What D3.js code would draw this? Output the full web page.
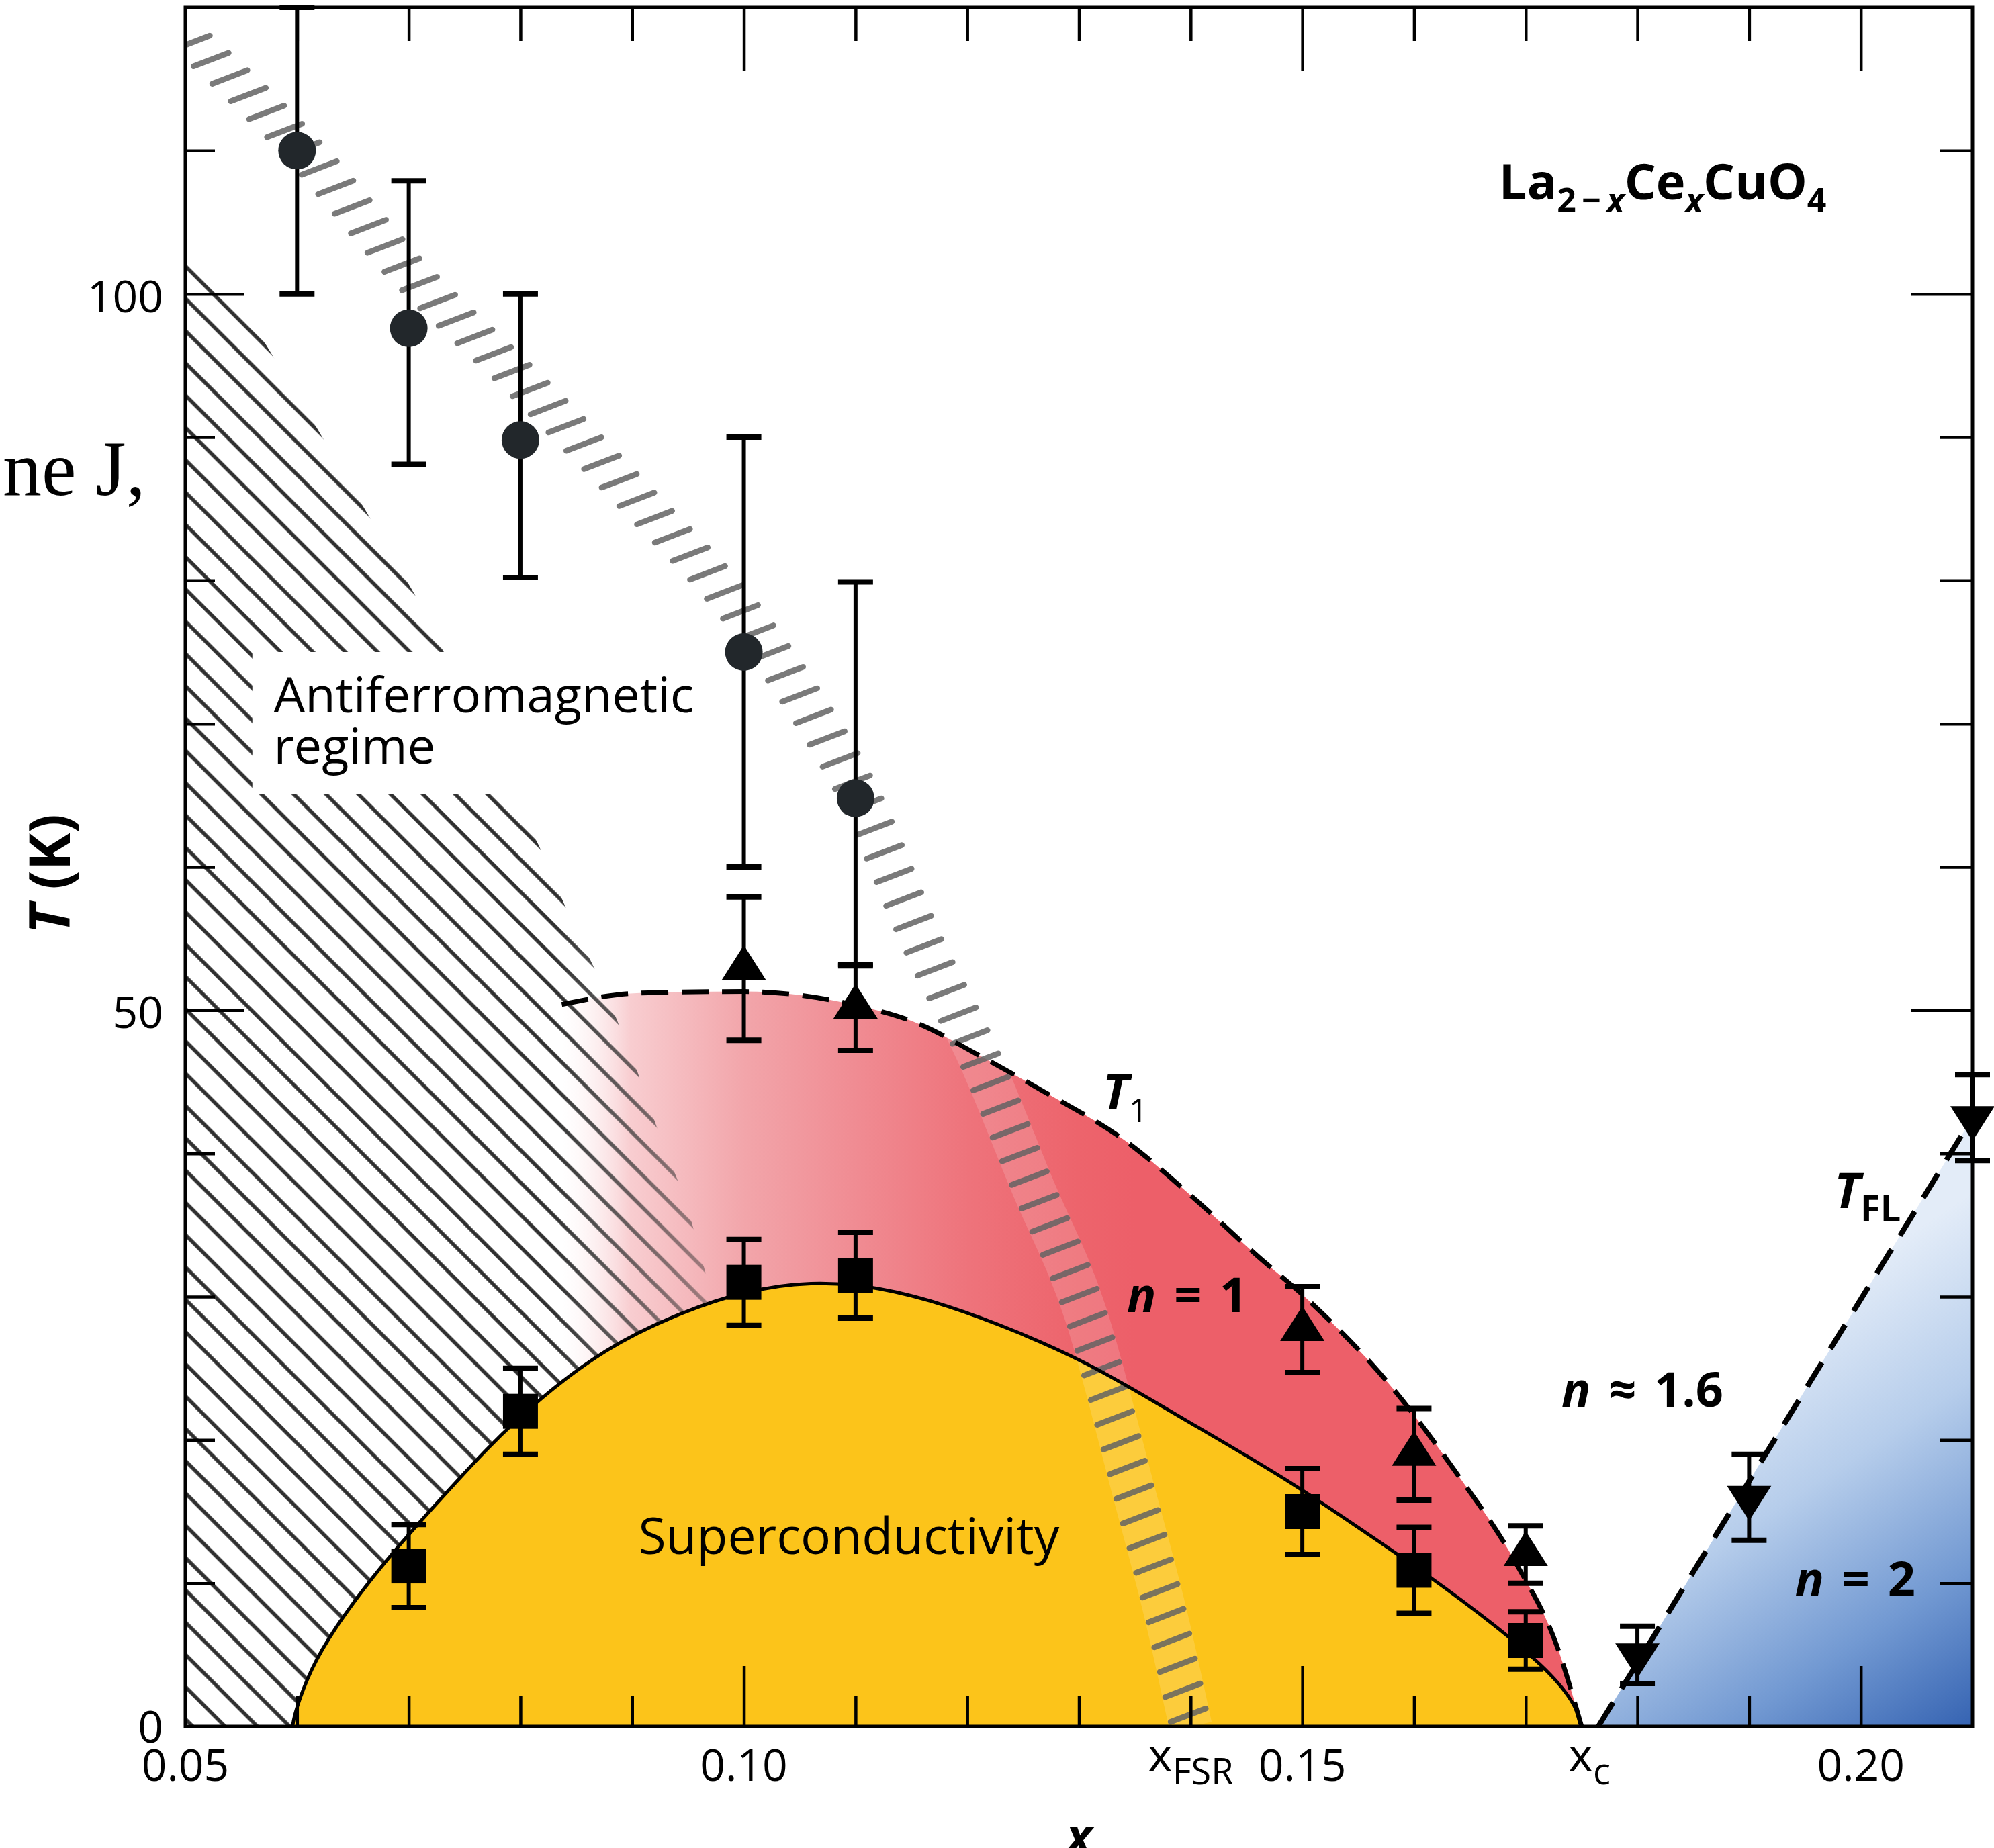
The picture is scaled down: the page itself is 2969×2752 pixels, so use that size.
<!DOCTYPE html>
<html><head><meta charset="utf-8">
<script src="https://cdn.jsdelivr.net/npm/d3@7"></script>
<style>
body{margin:0;background:#fff}
svg{display:block}
text{font-family:"Open Sans","Noto Sans",sans-serif;fill:#000}
</style>
</head><body>
<svg id="c" width="2969" height="2752"></svg>
<script>
// ---------------- data ----------------
const xMajorTicks = [0.05, 0.10, 0.15, 0.20];
const xMajorLabels = ["0.05", "0.10", "0.15", "0.20"];
const xMinorTicks = [0.06, 0.07, 0.08, 0.09, 0.11, 0.12, 0.13, 0.14, 0.16, 0.17, 0.18, 0.19];
const yMajorTicks = [0, 50, 100];
const yMajorLabels = ["0", "50", "100"];
const yMinorTicks = [10, 20, 30, 40, 60, 70, 80, 90, 110];

// antiferromagnetic (circles)
const afX  = [0.06, 0.07, 0.08, 0.10, 0.11];
const afT  = [110, 97.6, 89.8, 75, 64.8];
const afLo = [100, 88.1, 80.2, 60, 53.1];
const afHi = [120, 107.9, 100, 90, 79.9];

// T1 (up triangles)
const t1X   = [0.10, 0.11, 0.15, 0.16, 0.17];
const t1T   = [52.9, 50.2, 27.7, 19.0, 12.0];
const t1Err = [5.0, 3.0, 3.0, 3.2, 2.0];

// Tc (squares)
const tcX   = [0.07, 0.08, 0.10, 0.11, 0.15, 0.16, 0.17];
const tcT   = [11.2, 22.0, 31.0, 31.5, 15.0, 10.9, 6.0];
const tcErr = [2.9, 3.0, 3.0, 3.0, 3.0, 3.0, 2.0];

// T_FL (down triangles)
const flX   = [0.18, 0.19, 0.21];
const flT   = [5.0, 16.0, 42.5];
const flErr = [2.0, 3.0, 3.0];

// boundary curves
const tcCurveX = [0.0596, 0.0598, 0.0612, 0.0633, 0.0668, 0.0702, 0.0737, 0.0771, 0.0817, 0.0876, 0.0937, 0.0999, 0.106, 0.1121, 0.1183, 0.1244, 0.1305, 0.1367, 0.1428, 0.1489, 0.155, 0.1612, 0.1674, 0.1722, 0.1745, 0.175];
const tcCurveT = [0, 1.0, 4.0, 6.8, 10.5, 13.6, 16.6, 19.5, 22.9, 26.4, 28.7, 30.4, 31.1, 30.7, 29.4, 27.6, 25.5, 22.7, 19.9, 17.1, 13.9, 10.6, 7.0, 3.8, 1.5, 0];

const t1CurveX = [0.0837, 0.0907, 0.10, 0.1097, 0.1158, 0.1207, 0.1269, 0.1343, 0.1404, 0.1459, 0.1502, 0.1582, 0.1637, 0.1692, 0.1728, 0.175];
const t1CurveT = [50.4, 51.2, 51.3, 50.4, 49.0, 47.0, 44.3, 40.8, 36.8, 32.9, 30.0, 23.5, 17.8, 11.3, 5.6, 0];

const flLineX = [0.1765, 0.21];
const flLineT = [0, 42.5];

// Fermi-surface-reconstruction band
const bandX = [0.05, 0.06, 0.07, 0.08, 0.09, 0.10, 0.105, 0.11, 0.1163, 0.1211, 0.1258, 0.1306, 0.1349, 0.1379, 0.14];
const bandT = [118, 110.5, 101.5, 94, 86, 77.5, 72, 65.5, 54.2, 46.7, 37.8, 28.8, 16.4, 7.4, 0];

// antiferromagnetic hatched region boundary
const afBoundX = [0.05, 0.05, 0.056, 0.0615, 0.0668, 0.071, 0.0817, 0.0847, 0.0875, 0.0902, 0.0924, 0.0948, 0.0975, 0.0975];
const afBoundT = [0, 104, 98, 91, 84, 78.4, 61.4, 56, 51.5, 46.3, 41.4, 36.7, 29, 0];

// ---------------- drawing ----------------
const W = 2969, H = 2752;
const x = d3.scaleLinear().domain([0.05, 0.21]).range([276, 2937]);
const y = d3.scaleLinear().domain([0, 120]).range([2571, 11]);
const zip = (a, b) => a.map((v, i) => [v, b[i]]);

const svg = d3.select("#c");
svg.append("rect").attr("width", W).attr("height", H).attr("fill", "#fff");
const defs = svg.append("defs");

defs.append("clipPath").attr("id", "plotClip").append("rect")
  .attr("x", x(0.05)).attr("y", y(120)).attr("width", x(0.21) - x(0.05)).attr("height", y(0) - y(120));

// hatch pattern
const pat = defs.append("pattern").attr("id", "hatch").attr("patternUnits", "userSpaceOnUse")
  .attr("width", 100).attr("height", 34).attr("patternTransform", "rotate(45)");
pat.append("line").attr("x1", -5).attr("x2", 105).attr("y1", 17).attr("y2", 17)
  .attr("stroke", "#2f2f2f").attr("stroke-width", 5.5);

// fade for hatch inside pink region
const fg = defs.append("linearGradient").attr("id", "fadeG").attr("gradientUnits", "userSpaceOnUse")
  .attr("x1", x(0.083)).attr("x2", x(0.0975)).attr("y1", 0).attr("y2", 0);
fg.append("stop").attr("offset", 0).attr("stop-color", "#fff");
fg.append("stop").attr("offset", 1).attr("stop-color", "#666");
const mask = defs.append("mask").attr("id", "fadeM").attr("maskUnits", "userSpaceOnUse")
  .attr("x", 0).attr("y", 0).attr("width", W).attr("height", H);
mask.append("rect").attr("width", W).attr("height", H).attr("fill", "url(#fadeG)");

// red gradient
const rg = defs.append("linearGradient").attr("id", "redG").attr("gradientUnits", "userSpaceOnUse")
  .attr("x1", x(0.0837)).attr("x2", x(0.135)).attr("y1", 0).attr("y2", 0);
[[0, "#ffffff", 0.3], [0.12, "#f8cdd0", 1], [0.32, "#f2a5aa", 1], [0.51, "#f08c93", 1], [0.71, "#ee737b", 1], [0.9, "#ed646c", 1], [1, "#ed5f69", 1]]
  .forEach(([o, c, a]) => rg.append("stop").attr("offset", o).attr("stop-color", c).attr("stop-opacity", a));

// blue gradient
const bg = defs.append("linearGradient").attr("id", "blueG").attr("gradientUnits", "userSpaceOnUse")
  .attr("x1", x(0.188)).attr("y1", y(26)).attr("x2", x(0.21)).attr("y2", y(0));
[[0, "#e3ecf8"], [0.35, "#b6cdeb"], [0.7, "#7299d2"], [1, "#3563b2"]]
  .forEach(([o, c]) => bg.append("stop").attr("offset", o).attr("stop-color", c));

const plot = svg.append("g").attr("clip-path", "url(#plotClip)");

const lineMono = d3.line().x(d => x(d[0])).y(d => y(d[1])).curve(d3.curveMonotoneX);
const lineBasis = d3.line().x(d => x(d[0])).y(d => y(d[1])).curve(d3.curveBasis);
const lineLin = d3.line().x(d => x(d[0])).y(d => y(d[1]));
const areaMono = d3.area().x(d => x(d[0])).y0(y(0)).y1(d => y(d[1])).curve(d3.curveMonotoneX);
const areaBasis = d3.area().x(d => x(d[0])).y0(y(0)).y1(d => y(d[1])).curve(d3.curveBasis);

const tcPts = zip(tcCurveX, tcCurveT);
const t1Pts = zip(t1CurveX, t1CurveT);

// red region (under T1; superconducting dome painted over it)
plot.append("path").attr("d", areaMono(t1Pts)).attr("fill", "url(#redG)");

// hatched antiferromagnetic region
plot.append("path").attr("d", lineLin(zip(afBoundX, afBoundT)) + "Z")
  .attr("fill", "url(#hatch)").attr("mask", "url(#fadeM)");

// superconducting dome
plot.append("path").attr("d", areaBasis(tcPts)).attr("fill", "#fcc41a");

// blue Fermi-liquid region
plot.append("path").attr("d", lineLin([[flLineX[0], 0], ...zip(flLineX, flLineT), [flLineX[1], 0]]) + "Z")
  .attr("fill", "url(#blueG)");

// white box behind AF label
plot.append("rect").attr("x", x(0.056)).attr("y", y(75)).attr("width", x(0.0965) - x(0.056))
  .attr("height", y(65.1) - y(75)).attr("fill", "#fff");

// FSR band
const bandPath = plot.append("path").attr("d", lineMono(zip(bandX, bandT)))
  .attr("fill", "none").attr("stroke", "#fff").attr("stroke-opacity", 0.15).attr("stroke-width", 64);
const bn = bandPath.node();
const bL = bn.getTotalLength();
const ang = -21 * Math.PI / 180, half = 28;
const bandMarks = d3.range(14, bL, 38).map(s => bn.getPointAtLength(s));
plot.append("g").selectAll("line").data(bandMarks).join("line")
  .attr("x1", p => p.x - half * Math.cos(ang)).attr("y1", p => p.y - half * Math.sin(ang))
  .attr("x2", p => p.x + half * Math.cos(ang)).attr("y2", p => p.y + half * Math.sin(ang))
  .attr("stroke", "#636363").attr("stroke-opacity", 0.85).attr("stroke-width", 8.5).attr("stroke-linecap", "round");

// curves
plot.append("path").attr("d", lineMono(t1Pts)).attr("fill", "none").attr("stroke", "#000")
  .attr("stroke-width", 7).attr("stroke-dasharray", "40,20");
plot.append("path").attr("d", lineBasis(tcPts)).attr("fill", "none").attr("stroke", "#000")
  .attr("stroke-width", 5);
plot.append("path").attr("d", lineLin(zip(flLineX, flLineT))).attr("fill", "none").attr("stroke", "#000")
  .attr("stroke-width", 8).attr("stroke-dasharray", "42,24");

// error bars
function errBars(xs, lo, hi) {
  const g = svg.append("g");
  xs.forEach((v, i) => {
    g.append("line").attr("x1", x(v)).attr("x2", x(v)).attr("y1", y(lo[i])).attr("y2", y(hi[i]))
      .attr("stroke", "#000").attr("stroke-width", 6);
    [lo[i], hi[i]].forEach(t => g.append("line").attr("x1", x(v) - 26).attr("x2", x(v) + 26)
      .attr("y1", y(t)).attr("y2", y(t)).attr("stroke", "#000").attr("stroke-width", 8));
  });
}
errBars(afX, afLo, afHi);
errBars(t1X, t1T.map((v, i) => v - t1Err[i]), t1T.map((v, i) => v + t1Err[i]));
errBars(tcX, tcT.map((v, i) => v - tcErr[i]), tcT.map((v, i) => v + tcErr[i]));
errBars(flX, flT.map((v, i) => v - flErr[i]), flT.map((v, i) => v + flErr[i]));

// markers
const mk = svg.append("g");
mk.selectAll("circle").data(zip(afX, afT)).join("circle")
  .attr("cx", d => x(d[0])).attr("cy", d => y(d[1])).attr("r", 28).attr("fill", "#22272b");
mk.selectAll("rect.sq").data(zip(tcX, tcT)).join("rect").attr("class", "sq")
  .attr("x", d => x(d[0]) - 26).attr("y", d => y(d[1]) - 26).attr("width", 52).attr("height", 52).attr("fill", "#000");
const triUp = "M0,-35L33,17L-33,17Z", triDn = "M0,35L33,-17L-33,-17Z";
mk.selectAll("path.up").data(zip(t1X, t1T)).join("path").attr("class", "up")
  .attr("d", triUp).attr("transform", d => `translate(${x(d[0])},${y(d[1])})`).attr("fill", "#000");
mk.selectAll("path.dn").data(zip(flX, flT)).join("path").attr("class", "dn")
  .attr("d", triDn).attr("transform", d => `translate(${x(d[0])},${y(d[1])})`).attr("fill", "#000");

// ---------------- text ----------------
const tx = svg.append("g");
function label(xv, tv, parts, opts = {}) {
  const t = tx.append("text").attr("x", x(xv)).attr("y", y(tv))
    .attr("font-size", opts.size || 66).attr("text-anchor", opts.anchor || "start");
  if (opts.weight) t.attr("font-weight", opts.weight);
  if (opts.ws) t.attr("word-spacing", opts.ws);
  parts.forEach(p => {
    const s = t.append("tspan").text(p.t);
    if (p.size) s.attr("font-size", p.size);
    if (p.dy) s.attr("dy", p.dy);
    if (p.style) s.attr("font-style", p.style);
    if (p.weight) s.attr("font-weight", p.weight);
  });
  return t;
}
label(0.0579, 70.8, [{t: "Antiferromagnetic"}], {size: 74});
label(0.0579, 67.2, [{t: "regime"}], {size: 74});
label(0.1094, 12.05, [{t: "Superconductivity"}], {size: 75, anchor: "middle"});
label(0.1343, 28.9, [{t: "n", style: "italic"}, {t: " = 1"}], {size: 72, weight: 700, ws: 8});
label(0.1732, 22.3, [{t: "n", style: "italic"}, {t: " ≈ 1.6"}], {size: 72, weight: 700, ws: 8});
label(0.1941, 9.1, [{t: "n", style: "italic"}, {t: " = 2"}], {size: 72, weight: 700, ws: 8});
label(0.1321, 43.1, [{t: "T", style: "italic", weight: 700}, {t: "1", size: 50, dy: 19}], {size: 74});
label(0.1976, 36.2, [{t: "T", style: "italic", weight: 700}, {t: "FL", size: 54, dy: 20, weight: 700}], {size: 74});
label(0.1676, 106.6, [
  {t: "La"}, {t: "2\u2009\u2212\u2009", size: 50, dy: 19}, {t: "x", size: 50, style: "italic"},
  {t: "Ce", size: 74, dy: -19}, {t: "x", size: 50, dy: 19, style: "italic"},
  {t: "CuO", size: 74, dy: -19}, {t: "4", size: 50, dy: 19}
], {size: 74, weight: 700});

// stray text fragment at left margin
svg.append("text").attr("x", 4).attr("y", 737).attr("font-size", 116)
  .style("font-family", "'Liberation Serif','Times New Roman',serif").attr("fill", "#111").text("ne J,");

// ---------------- axes ----------------
const ax = svg.append("g");
function tickAxis(gen, tr, vals, size) {
  const g = ax.append("g").attr("transform", tr).call(gen.tickValues(vals).tickSize(size).tickFormat(""));
  g.select(".domain").remove();
  g.selectAll(".tick line").attr("stroke", "#000").attr("stroke-width", 4.5);
}
tickAxis(d3.axisBottom(x), `translate(0,${y(0)})`, xMajorTicks, -90);
tickAxis(d3.axisBottom(x), `translate(0,${y(0)})`, xMinorTicks, -45);
tickAxis(d3.axisTop(x), `translate(0,${y(120)})`, xMajorTicks, -95);
tickAxis(d3.axisTop(x), `translate(0,${y(120)})`, xMinorTicks, -50);
tickAxis(d3.axisLeft(y), `translate(${x(0.05)},0)`, yMajorTicks, -88);
tickAxis(d3.axisLeft(y), `translate(${x(0.05)},0)`, yMinorTicks, -44);
tickAxis(d3.axisRight(y), `translate(${x(0.21)},0)`, yMajorTicks, -92);
tickAxis(d3.axisRight(y), `translate(${x(0.21)},0)`, yMinorTicks, -48);

ax.append("rect").attr("x", x(0.05)).attr("y", y(120)).attr("width", x(0.21) - x(0.05))
  .attr("height", y(0) - y(120)).attr("fill", "none").attr("stroke", "#000").attr("stroke-width", 5);

// tick labels
xMajorTicks.forEach((v, i) => tx.append("text").attr("x", x(v)).attr("y", y(0) + 81)
  .attr("text-anchor", "middle").attr("font-size", 66).text(xMajorLabels[i]));
yMajorTicks.forEach((v, i) => tx.append("text").attr("x", x(0.05) - 33).attr("y", y(v) + (v === 0 ? 24 : 27))
  .attr("text-anchor", "end").attr("font-size", 66).text(yMajorLabels[i]));

// special x labels
function subLabel(xv, main, sub) {
  const t = tx.append("text").attr("x", x(xv)).attr("y", y(0) + 67).attr("text-anchor", "middle").attr("font-size", 70);
  t.append("tspan").text(main);
  t.append("tspan").attr("font-size", 54).attr("dy", 19).text(sub);
}
subLabel(0.14, "x", "FSR");
subLabel(0.1757, "x", "c");

// axis titles
tx.append("text").attr("x", x(0.13)).attr("y", 2760).attr("text-anchor", "middle")
  .attr("font-size", 72).attr("font-weight", 700).attr("font-style", "italic").text("x");
const yl = tx.append("text").attr("transform", `translate(104,${y(59.5)}) rotate(-90)`)
  .attr("text-anchor", "middle").attr("font-size", 84).attr("font-weight", 700);
yl.append("tspan").attr("font-style", "italic").text("T");
yl.append("tspan").text(" (K)");
</script>
</body></html>
